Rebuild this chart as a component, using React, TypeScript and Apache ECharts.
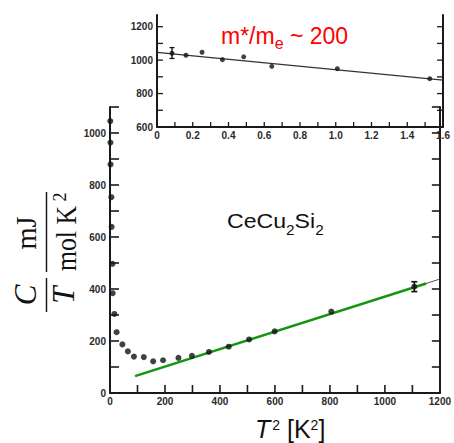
import React, { useEffect, useRef } from 'react';
import * as echarts from 'echarts';

// ---- main panel data: C/T (mJ/mol K^2) vs T^2 (K^2)
const mainT2 = [1, 1.5, 2, 5, 6, 9, 9.5, 16, 24, 45, 65, 87, 123, 157, 193, 249, 298, 360, 432, 506, 599, 805, 1107];
const mainCT = [1046, 963, 879, 753, 639, 497, 384, 304, 234, 187, 160, 140, 138, 122, 126, 135, 143, 158, 178, 206, 237, 313, 409];
const mainErr = [[1107, 390, 428]];
const greenFit = [[91, 65], [1150, 421]];
const blackFitEnd = [[1100, 404], [1196, 437]];

// ---- inset data
const insetX = [0.084, 0.162, 0.252, 0.366, 0.485, 0.642, 1.009, 1.526];
const insetY = [1041, 1029, 1047, 1003, 1020, 963, 949, 889];
const insetErr = [[0.084, 1010, 1075]];
const insetFit = [[0, 1046], [1.6, 880]];

// ---- ticks / tick labels
const mainXTicks = [100, 200, 300, 400, 500, 600, 700, 800, 900, 1000, 1100];
const mainYTicks = [100, 200, 300, 400, 500, 600, 700, 800, 900, 1000, 1100];
const insetXTicks = [0.1, 0.2, 0.3, 0.4, 0.5, 0.6, 0.7, 0.8, 0.9, 1.0, 1.1, 1.2, 1.3, 1.4, 1.5];
const insetYTicks = [700, 800, 900, 1000, 1100, 1200];
const insetXLabels = [0, 0.2, 0.4, 0.6, 0.8, 1.0, 1.2, 1.4, 1.6];
const insetYLabels = [600, 800, 1000, 1200];

const SANS = '"Liberation Sans", Arial, sans-serif';
const SERIF = '"Liberation Serif", "Times New Roman", serif';

let measureCtx: CanvasRenderingContext2D | null = null;
function tw(text: string, size: number, family: string, italic = false): number {
  if (!measureCtx) measureCtx = document.createElement('canvas').getContext('2d');
  if (!measureCtx) return text.length * size * 0.55;
  measureCtx.font = `${italic ? 'italic ' : ''}normal ${size}px ${family}`;
  return measureCtx.measureText(text).width;
}

type Part = { t: string; s: number; it?: boolean; dy?: number; dx?: number };
function runText(parts: Part[], x0: number, baseline: number, color: string, family: string, sx = 1) {
  let x = x0;
  const els: any[] = [];
  for (const p of parts) {
    x += (p.dx || 0) * sx;
    els.push({
      type: 'text',
      x,
      y: baseline + (p.dy || 0) - 0.33 * p.s,
      scaleX: sx,
      silent: true,
      style: {
        text: p.t,
        fontSize: p.s,
        fontFamily: family,
        fontStyle: p.it ? 'italic' : 'normal',
        fill: color,
        align: 'left',
        verticalAlign: 'middle',
      },
    });
    x += tw(p.t, p.s, family, p.it) * sx;
  }
  return els;
}

function rotText(t: string, x: number, y: number, size: number, it = false, sx = 1) {
  return {
    type: 'text',
    x,
    y,
    rotation: Math.PI / 2,
    scaleX: sx,
    silent: true,
    style: {
      text: t,
      fontSize: size,
      fontFamily: SERIF,
      fontStyle: it ? 'italic' : 'normal',
      fill: '#111',
      align: 'center',
      verticalAlign: 'middle',
    },
  };
}

const errRender = (cap: number, lw: number) => (params: any, api: any) => {
  const x = api.value(0);
  const a = api.coord([x, api.value(1)]);
  const b = api.coord([x, api.value(2)]);
  const st = { stroke: '#111', lineWidth: lw };
  return {
    type: 'group',
    children: [
      { type: 'line', shape: { x1: a[0], y1: a[1], x2: b[0], y2: b[1] }, style: st },
      { type: 'line', shape: { x1: a[0] - cap, y1: a[1], x2: a[0] + cap, y2: a[1] }, style: st },
      { type: 'line', shape: { x1: b[0] - cap, y1: b[1], x2: b[0] + cap, y2: b[1] }, style: st },
    ],
  };
};

// inward tick marks, positioned through the axis scales
const tickRender = (dir: 'up' | 'right' | 'left', len: number, lw: number) => (params: any, api: any) => {
  const p = api.coord([api.value(0), api.value(1)]);
  let x2 = p[0];
  let y2 = p[1];
  if (dir === 'up') y2 -= len;
  else if (dir === 'right') x2 += len;
  else x2 -= len;
  return { type: 'line', shape: { x1: p[0], y1: p[1], x2, y2 }, style: { stroke: '#1a1a1a', lineWidth: lw } };
};

const tickSeries = (xi: number, yi: number, data: number[][], dir: 'up' | 'right' | 'left', len: number, lw: number) => ({
  type: 'custom',
  xAxisIndex: xi,
  yAxisIndex: yi,
  clip: false,
  silent: true,
  z: 6,
  renderItem: tickRender(dir, len, lw),
  encode: { x: 0, y: 1 },
  data,
});

const labelStyle = { fontFamily: SANS, fontWeight: 'bold' as const, fontSize: 10, color: '#2a2a2a' };
const line = () => ({ show: true, onZero: false, lineStyle: { color: '#1a1a1a', width: 2 } });
const noTick = { show: false };

export default function App() {
  const ref = useRef<HTMLDivElement>(null);
  useEffect(() => {
    if (!ref.current) return;
    const chart = echarts.init(ref.current, undefined, { renderer: 'svg' });

    const graphics: any[] = [
      ...runText(
        [
          { t: 'm*/m', s: 23 },
          { t: 'e', s: 16, dy: 5 },
          { t: ' ~ 200', s: 23 },
        ],
        221, 43.3, '#ff0000', SANS
      ),
      ...runText(
        [
          { t: 'CeCu', s: 21 },
          { t: '2', s: 14, dy: 7 },
          { t: 'Si', s: 21 },
          { t: '2', s: 14, dy: 7 },
        ],
        227, 228, '#111', SANS, 1.1
      ),
      ...runText(
        [
          { t: 'T', s: 25, it: true },
          { t: '2', s: 14, dy: -7, dx: 2 },
          { t: ' [K', s: 25 },
          { t: '2', s: 14, dy: -7 },
          { t: ']', s: 25 },
        ],
        255, 437, '#111', SANS
      ),
      rotText('C', 25, 295, 31, true),
      rotText('T', 63.5, 295, 31, true),
      { type: 'line', silent: true, shape: { x1: 46.5, y1: 278, x2: 46.5, y2: 312 }, style: { stroke: '#111', lineWidth: 1.4 } },
      rotText('mJ', 25.5, 233, 30, false, 0.95),
      rotText('mol K', 65.5, 238.5, 30, false, 0.86),
      rotText('2', 60, 197, 18),
      { type: 'line', silent: true, shape: { x1: 46.5, y1: 192, x2: 46.5, y2: 272 }, style: { stroke: '#111', lineWidth: 1.4 } },
    ];

    chart.setOption({
      animation: false,
      backgroundColor: '#ffffff',
      grid: [
        { left: 110, top: 107, width: 335, height: 286 },
        { left: 157, top: 15, width: 286, height: 112 },
      ],
      xAxis: [
        {
          gridIndex: 0, type: 'value', min: 0, max: 1200, interval: 100,
          axisLine: line(), splitLine: { show: false }, axisTick: noTick,
          axisLabel: { ...labelStyle, margin: 3, formatter: (v: number) => (v % 200 === 0 ? String(v) : '') },
        },
        {
          gridIndex: 1, type: 'value', min: 0, max: 1.6, interval: 0.1,
          axisLine: line(), splitLine: { show: false }, axisTick: noTick,
          axisLabel: {
            ...labelStyle, margin: 3, customValues: insetXLabels,
            formatter: (v: number) => (Math.abs(v) < 1e-9 ? '0' : v.toFixed(1)),
          },
        },
      ],
      yAxis: [
        {
          gridIndex: 0, type: 'value', position: 'left', min: 0, max: 1100, interval: 100,
          axisLine: line(), splitLine: { show: false }, axisTick: noTick,
          axisLabel: { ...labelStyle, margin: 4, formatter: (v: number) => (v % 200 === 0 && v <= 1000 ? String(v) : '') },
        },
        {
          gridIndex: 0, type: 'value', position: 'right', min: 0, max: 1100, interval: 100,
          axisLine: line(), splitLine: { show: false }, axisTick: noTick,
          axisLabel: { show: false },
        },
        {
          gridIndex: 1, type: 'value', position: 'left', min: 600, max: 1270, interval: 100,
          axisLine: line(), splitLine: { show: false }, axisTick: noTick,
          axisLabel: { ...labelStyle, margin: 4, customValues: insetYLabels, formatter: (v: number) => String(v) },
        },
        {
          gridIndex: 1, type: 'value', position: 'right', min: 600, max: 1270, interval: 100,
          axisLine: line(), splitLine: { show: false }, axisTick: noTick,
          axisLabel: { show: false },
        },
      ],
      series: [
        {
          type: 'line', xAxisIndex: 0, yAxisIndex: 0, data: blackFitEnd, showSymbol: false, silent: true,
          lineStyle: { color: '#555', width: 1 }, z: 2,
        },
        {
          type: 'line', xAxisIndex: 0, yAxisIndex: 0, data: greenFit, showSymbol: false, silent: true,
          lineStyle: { color: '#12960f', width: 2.5 }, z: 3,
        },
        {
          type: 'scatter', xAxisIndex: 0, yAxisIndex: 0, symbolSize: 6, z: 4,
          itemStyle: { color: '#111' },
          data: mainT2.map((x, i) => [x, mainCT[i]]),
        },
        {
          type: 'custom', xAxisIndex: 0, yAxisIndex: 0, z: 5,
          renderItem: errRender(3, 1.6), encode: { x: 0, y: [1, 2] }, data: mainErr,
        },
        {
          type: 'line', xAxisIndex: 1, yAxisIndex: 2, data: insetFit, showSymbol: false, silent: true,
          lineStyle: { color: '#333', width: 1.2 }, z: 2,
        },
        {
          type: 'scatter', xAxisIndex: 1, yAxisIndex: 2, symbolSize: 5, z: 4,
          itemStyle: { color: '#111' },
          data: insetX.map((x, i) => [x, insetY[i]]),
        },
        {
          type: 'custom', xAxisIndex: 1, yAxisIndex: 2, z: 5,
          renderItem: errRender(2.5, 1.3), encode: { x: 0, y: [1, 2] }, data: insetErr,
        },
        // tick marks (inward)
        tickSeries(0, 0, mainXTicks.map((v) => [v, 0]), 'up', 8, 1.6),
        tickSeries(0, 0, mainYTicks.map((v) => [0, v]), 'right', 9, 1.6),
        tickSeries(0, 0, mainYTicks.map((v) => [1200, v]), 'left', 8, 1.6),
        tickSeries(1, 2, insetXTicks.map((v) => [v, 600]), 'up', 5, 1.3),
        tickSeries(1, 2, insetYTicks.map((v) => [0, v]), 'right', 6, 1.3),
        tickSeries(1, 2, insetYTicks.map((v) => [1.6, v]), 'left', 6, 1.3),
      ],
      graphic: graphics,
    });
    return () => chart.dispose();
  }, []);

  return (
    <div
      ref={ref}
      style={{ position: 'fixed', left: 0, top: 0, width: 454, height: 443, background: '#fff' }}
    />
  );
}
